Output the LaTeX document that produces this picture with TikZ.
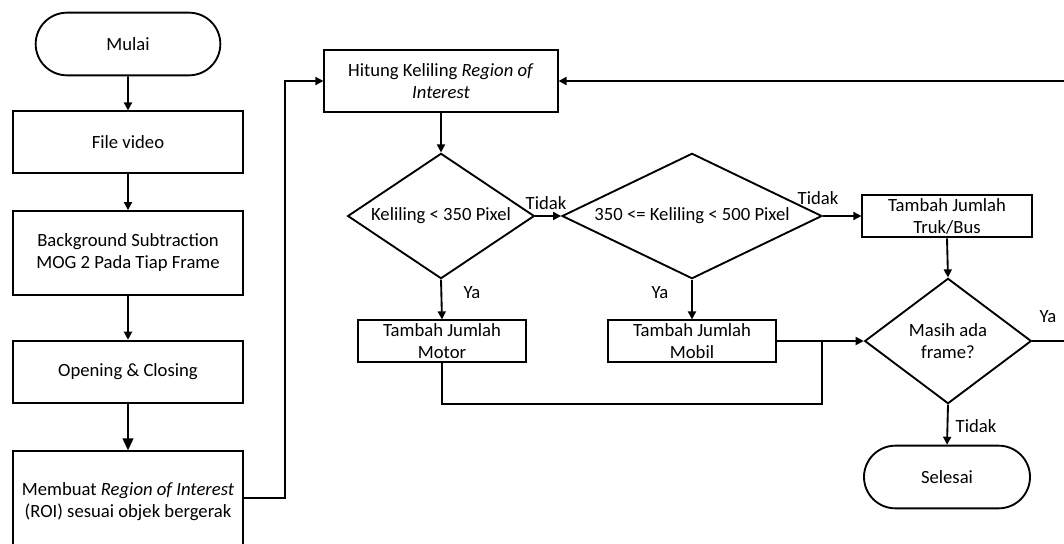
\documentclass[tikz,border=0pt]{standalone}
\usepackage{fontspec}
\setmainfont{Carlito}
\usetikzlibrary{shapes.geometric,shapes.misc,arrows.meta}

\tikzset{every picture/.style={line width=1.4pt}}
\tikzset{
every node/.style={font=\fontsize{14}{16.5}\selectfont},
procbox/.style={draw, rectangle, align=center, inner sep=0.75pt},
termbox/.style={draw, rounded rectangle, align=center, inner sep=0.75pt},
decbox/.style={draw, diamond, align=center, inner sep=0pt},
arr/.style={-{Triangle[length=6pt,width=6pt]}},
bigarr/.style={-{Triangle[length=9pt,width=8pt]}},
lbl/.style={inner sep=0.75pt}}

\begin{document}
\begin{tikzpicture}[x=0.75pt,y=0.75pt,yscale=-1,xscale=1]
\useasboundingbox (0,0) rectangle (1064,543);
\clip (0,0) rectangle (1064,543);

%Shape: Terminator [id:mulai]
\node (mulai) at (128,44) [termbox, minimum width=140pt, minimum height=47pt] {Mulai};
%Shape: Rectangle [id:file]
\node (file) at (128,142) [procbox, minimum width=173pt, minimum height=46pt] {File video};
%Shape: Rectangle [id:bgsub]
\node (bgsub) at (128,253) [procbox, minimum width=173pt, minimum height=63pt] {Background Subtraction\\MOG 2 Pada Tiap Frame};
%Shape: Rectangle [id:open]
\node (open) at (128,372) [procbox, minimum width=173pt, minimum height=47pt] {Opening \& Closing};
%Shape: Rectangle [id:roi]
\node (roi) at (128,502) [procbox, minimum width=173pt, minimum height=76pt] {Membuat \textit{Region of Interest}\\(ROI) sesuai objek bergerak};

%Shape: Rectangle [id:hitung]
\node (hitung) at (441,81) [procbox, minimum width=175pt, minimum height=47pt] {Hitung Keliling \textit{Region of}\\\textit{Interest}};
%Shape: Diamond [id:kecil]
\node (kecil) at (441,216) [decbox, aspect=1.5, minimum width=140pt, minimum height=94pt] {Keliling < 350 Pixel};
%Shape: Diamond [id:sedang]
\node (sedang) at (692,216) [decbox, aspect=2.08, minimum width=195pt, minimum height=94pt] {350 <= Keliling < 500 Pixel};
%Shape: Rectangle [id:truk]
\node (truk) at (947,216) [procbox, minimum width=127pt, minimum height=32pt] {Tambah Jumlah\\Truk/Bus};
%Shape: Rectangle [id:motor]
\node (motor) at (442,341) [procbox, minimum width=126pt, minimum height=31pt] {Tambah Jumlah\\Motor};
%Shape: Rectangle [id:mobil]
\node (mobil) at (692,341) [procbox, minimum width=126pt, minimum height=31pt] {Tambah Jumlah\\Mobil};
%Shape: Diamond [id:masih]
\node (masih) at (948,341) [decbox, aspect=1.33, minimum width=125pt, minimum height=94pt] {Masih ada\\frame?};
%Shape: Terminator [id:selesai]
\node (selesai) at (947,477) [termbox, minimum width=126pt, minimum height=47pt] {Selesai};

\coordinate (naik) at (285,498);
\coordinate (gabung) at (822,404);
\coordinate (temu) at (822,341);
\coordinate (balik) at (1070,81);

%Straight Lines
\draw [arr] (mulai) -- (file);
\draw [arr] (file) -- (bgsub);
\draw [arr] (bgsub) -- (open);
\draw [bigarr] (open) -- (roi);
\draw [arr] (roi.east |- naik) -- (naik) |- (hitung.west);
\draw [arr] (hitung) -- (kecil);
\draw [arr] (kecil.east) -- (sedang.west);
\draw [arr] (sedang.east) -- (truk.west);
\draw [arr] (kecil.south) -- (motor.north);
\draw [arr] (sedang.south) -- (mobil.north);
\draw [arr] (truk.south) -- (masih.north);
\draw [arr] (mobil.east) -- (masih.west);
\draw (motor.south) |- (gabung) -- (temu);
\draw [arr] (masih.south) -- (selesai.north);
\draw [arr] (masih.east) -| (balik) -- (hitung.east);

% Text Node
\node (t1) at (546,203) [lbl] {Tidak};
% Text Node
\node (t2) at (818,198) [lbl] {Tidak};
% Text Node
\node (y1) at (472,293) [lbl] {Ya};
% Text Node
\node (y2) at (660,293) [lbl] {Ya};
% Text Node
\node (y3) at (1048,317) [lbl] {Ya};
% Text Node
\node (t3) at (976,426) [lbl] {Tidak};

\end{tikzpicture}
\end{document}
